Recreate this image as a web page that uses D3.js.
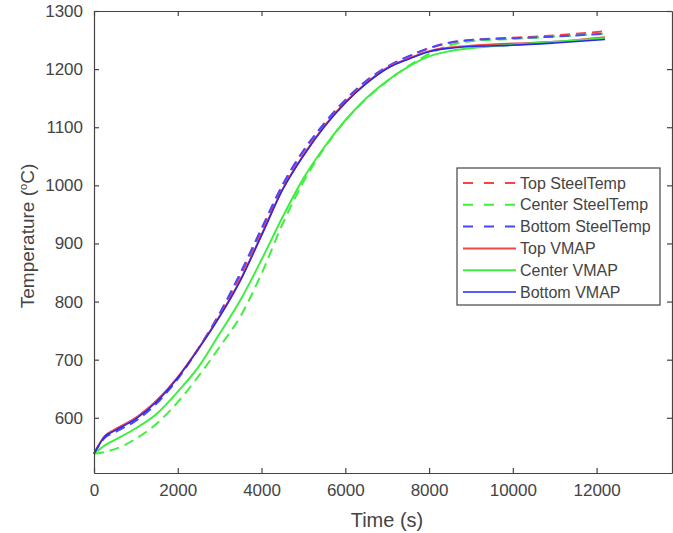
<!DOCTYPE html>
<html>
<head>
<meta charset="utf-8">
<script src="https://cdn.jsdelivr.net/npm/d3@7"></script>
<style>
  html, body { margin: 0; padding: 0; background: #fff; }
  svg { display: block; }
  text { font-family: "Liberation Sans", Arial, sans-serif; }
</style>
</head>
<body>
<svg id="chart" width="673" height="533"></svg>
<script>
// ---- data ----
const times = [0, 250, 500, 1000, 1500, 2000, 2500, 3000, 3500, 4000, 4500, 5000, 5500, 6000, 6500, 7000, 7500, 8000, 8500, 9000, 10000, 11000, 12200];

const topSteelTemp    = [538, 567, 579, 600, 630, 668, 720, 778, 845, 922, 998, 1058, 1105, 1146, 1179, 1203, 1221, 1236, 1245, 1250, 1254, 1258, 1265];
const centerSteelTemp = [538, 541, 546, 564, 590, 627, 672, 722, 775, 848, 933, 1006, 1064, 1111, 1149, 1179, 1205, 1226, 1241, 1248, 1252, 1256, 1261];
const bottomSteelTemp = [538, 565, 575, 595, 625, 667, 720, 780, 850, 926, 1001, 1060, 1107, 1147, 1180, 1204, 1222, 1236, 1246, 1250, 1253, 1256, 1261];
const topVMAP         = [538, 568, 580, 600, 630, 670, 720, 775, 838, 915, 993, 1052, 1102, 1143, 1176, 1202, 1218, 1231, 1237, 1240, 1244, 1247, 1255];
const centerVMAP      = [538, 552, 562, 582, 607, 645, 688, 745, 803, 872, 945, 1012, 1066, 1112, 1150, 1180, 1204, 1222, 1231, 1236, 1242, 1247, 1253];
const bottomVMAP      = [538, 567, 578, 598, 628, 669, 719, 774, 837, 914, 992, 1051, 1101, 1142, 1175, 1201, 1217, 1230, 1236, 1239, 1241, 1245, 1251];

const seriesNames = ["Top SteelTemp", "Center SteelTemp", "Bottom SteelTemp", "Top VMAP", "Center VMAP", "Bottom VMAP"];
const seriesValues = [topSteelTemp, centerSteelTemp, bottomSteelTemp, topVMAP, centerVMAP, bottomVMAP];
const seriesColors = ["#ff4040", "#40f040", "#4848ff", "#f04848", "#40ee40", "#2828f0"];
const seriesDashed = [true, true, true, false, false, false];

const xTicks = [0, 2000, 4000, 6000, 8000, 10000, 12000];
const yTicks = [600, 700, 800, 900, 1000, 1100, 1200, 1300];
const xDomain = [0, 13800];
const yDomain = [505, 1300];

// ---- layout ----
const svg = d3.select("#chart");
const L = 94, R = 672, T = 11, B = 473;
const x = d3.scaleLinear().domain(xDomain).range([L, R]);
const y = d3.scaleLinear().domain(yDomain).range([B, T]);
const axisColor = "#444";
const textColor = "#444";

// lines
const line = d3.line().x(d => x(d[0])).y(d => y(d[1])).curve(d3.curveMonotoneX);
const plot = svg.append("g");
seriesValues.forEach((vals, i) => {
  plot.append("path")
    .datum(times.map((t, j) => [t, vals[j]]))
    .attr("d", line)
    .attr("fill", "none")
    .attr("stroke", seriesColors[i])
    .attr("stroke-width", i === 5 ? 1.6 : 2)
    .attr("stroke-dasharray", seriesDashed[i] ? "10,6" : null);
});

// axes
function styleAxis(g) {
  g.selectAll(".domain").attr("stroke", axisColor).attr("stroke-width", 1.2);
  g.selectAll(".tick line").attr("stroke", axisColor).attr("stroke-width", 1.2);
  g.selectAll(".tick text").attr("fill", textColor).style("font-size", "17px")
    .style("font-family", "'Liberation Sans', Arial, sans-serif");
}
const xAxis = svg.append("g").attr("transform", `translate(0,${B})`)
  .call(d3.axisBottom(x).tickValues(xTicks).tickSize(-5).tickPadding(11).tickSizeOuter(0).tickFormat(d3.format("d")));
styleAxis(xAxis);
const xAxisTop = svg.append("g").attr("transform", `translate(0,${T})`)
  .call(d3.axisTop(x).tickValues(xTicks).tickSize(-5).tickSizeOuter(0).tickFormat(""));
styleAxis(xAxisTop);
const yAxis = svg.append("g").attr("transform", `translate(${L},0)`)
  .call(d3.axisLeft(y).tickValues(yTicks).tickSize(-5).tickPadding(11).tickSizeOuter(0).tickFormat(d3.format("d")));
styleAxis(yAxis);
const yAxisRight = svg.append("g").attr("transform", `translate(${R},0)`)
  .call(d3.axisRight(y).tickValues(yTicks).tickSize(-5).tickSizeOuter(0).tickFormat(""));
styleAxis(yAxisRight);

// axis labels
svg.append("text")
  .attr("x", 387).attr("y", 527)
  .attr("text-anchor", "middle")
  .attr("fill", textColor).style("font-size", "20px")
  .text("Time (s)");

const yl = svg.append("text")
  .attr("transform", `translate(34,236) rotate(-90)`)
  .attr("text-anchor", "middle")
  .attr("fill", textColor).style("font-size", "19px");
yl.append("tspan").text("Temperature (");
yl.append("tspan").attr("dy", -7).style("font-size", "11px").text("o");
yl.append("tspan").attr("dy", 7).text("C)");

// legend
const lg = svg.append("g");
const lgX = 457, lgY = 168, lgW = 203, lgH = 137;
lg.append("rect").attr("x", lgX).attr("y", lgY).attr("width", lgW).attr("height", lgH)
  .attr("fill", "#fff").attr("stroke", axisColor).attr("stroke-width", 1.2);
seriesNames.forEach((name, i) => {
  const cy = 183 + i * 21.8;
  lg.append("line").attr("x1", 463).attr("x2", 516).attr("y1", cy).attr("y2", cy)
    .attr("stroke", seriesColors[i]).attr("stroke-width", i === 5 ? 1.6 : 2)
    .attr("stroke-dasharray", seriesDashed[i] ? "10,11" : null);
  lg.append("text").attr("x", 520).attr("y", cy).attr("dy", "0.35em")
    .attr("fill", textColor).style("font-size", "16px").text(name);
});
</script>
</body>
</html>
